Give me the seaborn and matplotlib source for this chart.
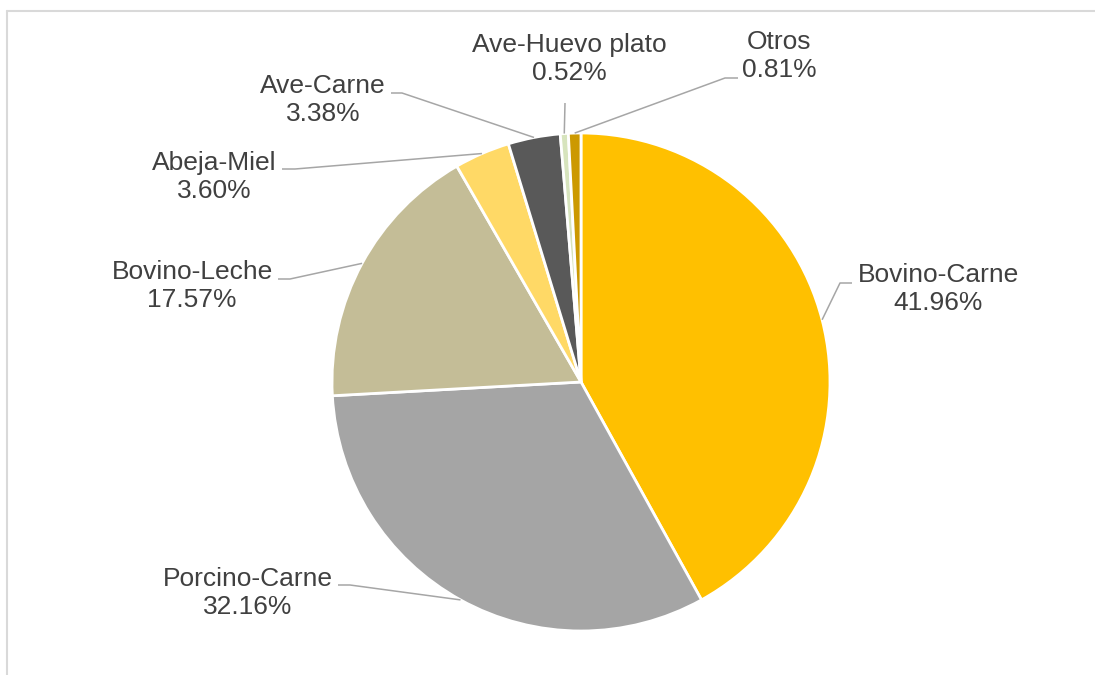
import numpy as np
import matplotlib.pyplot as plt
import seaborn as sns

# datos del grafico
categorias = ['Bovino-Carne', 'Porcino-Carne', 'Bovino-Leche', 'Abeja-Miel',
              'Ave-Carne', 'Ave-Huevo plato', 'Otros']
porcentajes = [41.96, 32.16, 17.57, 3.60, 3.38, 0.52, 0.81]
colores = ['#FFC000', '#A5A5A5', '#C4BD97', '#FFD966', '#595959', '#D7E4BD', '#CC9900']

# posicion de etiquetas (pixeles, y desde arriba): centro del texto, codo de la linea, fin del tramo horizontal
pos_texto = [(938, 289), (248, 593), (192, 286), (214, 177), (323, 100), (569, 59), (779, 56)]
codo = [(840, 283), (350, 585), (290, 279), (295, 169), (402, 93), (565, 103), (725, 78)]
tramo = [(852, 283), (338, 585), (278, 279), (282, 169), (391, 93), (565, 103), (738, 78)]

W, H = 1095, 675
cx, cy, radio = 581, 382, 249

sns.set_theme(style='white')
plt.rcParams['font.family'] = ['Liberation Sans', 'DejaVu Sans']

fig = plt.figure(figsize=(W / 100, H / 100), dpi=100)
ax = fig.add_axes([0, 0, 1, 1])

wedges, _ = ax.pie(porcentajes, colors=colores, startangle=90, counterclock=False,
                   center=(cx, H - cy), radius=radio,
                   wedgeprops=dict(edgecolor='white', linewidth=2))

ax.set_xlim(0, W)
ax.set_ylim(0, H)
ax.set_aspect('equal')
ax.axis('off')

gris_linea = '#A6A6A6'
for w, cat, pct, pt, cd, tr in zip(wedges, categorias, porcentajes, pos_texto, codo, tramo):
    ang = np.deg2rad((w.theta1 + w.theta2) / 2)
    x0 = cx + radio * np.cos(ang)
    y0 = (H - cy) + radio * np.sin(ang)
    ax.plot([x0, cd[0], tr[0]], [y0, H - cd[1], H - tr[1]], color=gris_linea, lw=1.1,
            solid_capstyle='butt')
    ax.text(pt[0], H - pt[1], f'{cat}\n{pct:.2f}%', ha='center', va='center',
            fontsize=19, color='#404040', linespacing=1.22)

# marco del area del grafico (recortado)
ax.plot([7, 7], [H - 11, 0], color='#D9D9D9', lw=1.5, clip_on=False)
ax.plot([7, W + 5], [H - 11, H - 11], color='#D9D9D9', lw=1.5, clip_on=False)

fig.savefig('out.png', dpi=100)
